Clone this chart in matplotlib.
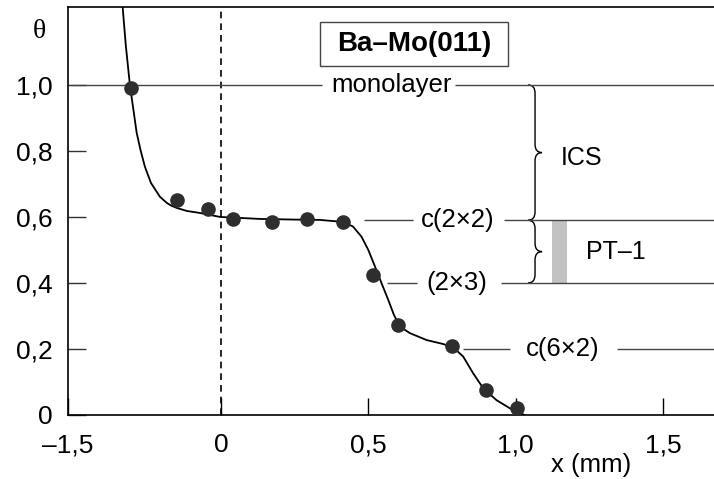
import matplotlib
matplotlib.use("Agg")
import matplotlib.pyplot as plt
from matplotlib.path import Path
from matplotlib.patches import PathPatch, Rectangle

plt.rcParams['font.family'] = ['Liberation Sans', 'DejaVu Sans']

# ---- data ----
pts_x = [-0.305, -0.148, -0.043, 0.042, 0.174, 0.292, 0.413, 0.517, 0.602, 0.783, 0.899, 1.003]
pts_theta = [0.99, 0.652, 0.623, 0.594, 0.585, 0.594, 0.584, 0.424, 0.273, 0.209, 0.076, 0.02]

curve_x = [-0.3336, -0.323, -0.309, -0.286, -0.273, -0.258, -0.2375, -0.207, -0.183,
           -0.168, -0.149, -0.115, -0.071, -0.003, 0.132, 0.25, 0.336, 0.413,
           0.448, 0.477, 0.5, 0.523, 0.545, 0.568, 0.587, 0.607, 0.641, 0.698,
           0.754, 0.788, 0.822, 0.856, 0.89, 0.935, 0.981, 1.037]
curve_theta = [1.236, 1.121, 1.0, 0.855, 0.803, 0.752, 0.703, 0.661, 0.642,
               0.634, 0.627, 0.618, 0.612, 0.60, 0.594, 0.592, 0.591, 0.585,
               0.571, 0.540, 0.50, 0.449, 0.399, 0.348, 0.303, 0.268, 0.248, 0.227,
               0.215, 0.205, 0.177, 0.126, 0.081, 0.045, 0.02, -0.003]

level_theta = [1.0, 0.59, 0.40, 0.20]
level_names = ["monolayer", "c(2\u00d72)", "(2\u00d73)", "c(6\u00d72)"]

xtick_labels = ["\u20131,5", "0", "0,5", "1,0", "1,5"]
ytick_vals = [0, 0.2, 0.4, 0.6, 0.8, 1.0]
ytick_labels = ["0", "0,2", "0,4", "0,6", "0,8", "1,0"]

pt1_range = (0.40, 0.59)
ics_range = (0.59, 1.0)

# ---- figure ----
W, H = 714, 479
fig = plt.figure(figsize=(W / 100, H / 100), dpi=100)
ax = fig.add_axes([68 / W, (479 - 415) / H, (714 - 68) / W, (415 - 7) / H])

XL, XR = -0.519, 1.673
ax.set_xlim(XL, XR)
ax.set_ylim(0, 1.236)

for s in ['left', 'bottom', 'top']:
    ax.spines[s].set_linewidth(1.2)
    ax.spines[s].set_color('black')
ax.spines['right'].set_visible(False)

ax.set_xticks([XL, 0, 0.5, 1.0, 1.5])
ax.set_xticklabels(xtick_labels)
ax.set_yticks(ytick_vals)
ax.set_yticklabels(ytick_labels)
ax.tick_params(axis='x', direction='in', length=12, width=1, pad=13, labelsize=19)
ax.tick_params(axis='y', direction='in', length=13, width=1, pad=11, labelsize=19,
               colors='#333333', labelcolor='black')

ax.text(-0.045, 0.941, "\u03b8", transform=ax.transAxes, ha='center', va='center',
        fontsize=20, family=['Liberation Serif', 'DejaVu Serif'])
fig.text(591 / W, 1 - 465 / H, "x (mm)", ha='center', va='center', fontsize=18.5)

# dashed zero line
ax.axvline(0, color='black', lw=1.2, ls=(0, (4, 3)))

# level lines with labels (layout positions in data x)
gap_layout = [(-0.51, 0.343, 0.58, 0.794),
              (0.485, 0.652, 0.804, 0.96),
              (0.563, 0.665, 0.80, 0.95),
              (0.821, 0.98, 1.16, 1.344)]
for th, name, (a, b, c, d) in zip(level_theta, level_names, gap_layout):
    ax.plot([a, b], [th, th], color='#444444', lw=1.0, solid_capstyle='butt')
    ax.plot([d, XR], [th, th], color='#444444', lw=1.0, solid_capstyle='butt')
    ax.text(c, th, name, ha='center', va='center', fontsize=18.5)

# braces
def brace(x0, y_top, y_bot, w, r):
    ym = (y_top + y_bot) / 2
    xm = x0 + w / 2
    verts = [(x0, y_top), (xm, y_top), (xm, y_top - r),
             (xm, ym + r),
             (xm, ym), (x0 + w, ym),
             (xm, ym), (xm, ym - r),
             (xm, y_bot + r),
             (xm, y_bot), (x0, y_bot)]
    codes = [Path.MOVETO, Path.CURVE3, Path.CURVE3,
             Path.LINETO,
             Path.CURVE3, Path.CURVE3,
             Path.CURVE3, Path.CURVE3,
             Path.LINETO,
             Path.CURVE3, Path.CURVE3]
    ax.add_patch(PathPatch(Path(verts, codes), fill=False, lw=1.0, ec='black'))

brace(1.042, ics_range[1], ics_range[0], 0.0475, 0.025)
brace(1.042, pt1_range[1], pt1_range[0], 0.0475, 0.025)

ax.bar([1.148], [pt1_range[1] - pt1_range[0]], bottom=pt1_range[0], width=0.05,
       color='#c2c2c2', edgecolor='none')

ax.text(1.225, 0.78, "ICS", ha='center', va='center', fontsize=18)
ax.text(1.34, 0.494, "PT\u20131", ha='center', va='center', fontsize=18)

# title box
ax.add_patch(Rectangle(((320 - 68) / 646, (415 - 66) / 408), (508 - 320) / 646, 44 / 408,
                       transform=ax.transAxes, fill=False, ec='#444444', lw=1.0))
ax.text((414 - 68) / 646, (415 - 44) / 408, "Ba\u2013Mo(011)", transform=ax.transAxes,
        ha='center', va='center', fontsize=20, fontweight='bold')

# curve and points
ax.plot(curve_x, curve_theta, color='black', lw=1.3, solid_joinstyle='round')
ax.plot(pts_x, pts_theta, 'o', color='#2e2e2e', markersize=9.5, zorder=5)

fig.savefig("out.png", dpi=100)
